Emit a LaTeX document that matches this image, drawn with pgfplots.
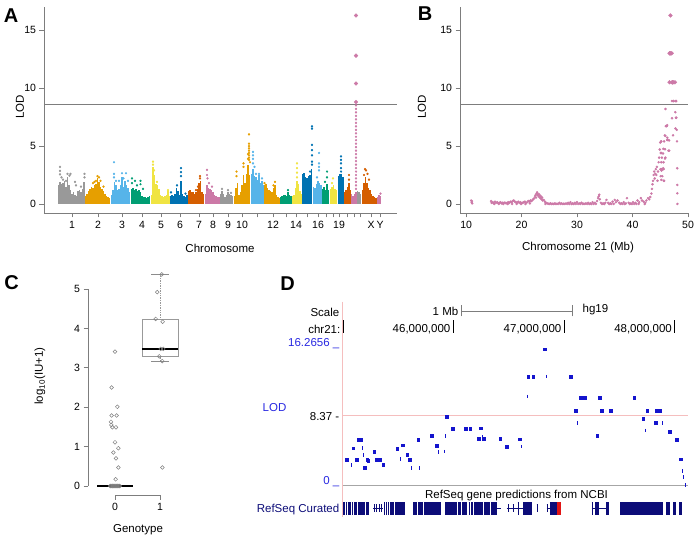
\documentclass[border=0pt]{standalone}
\usepackage{pgfplots}
\pgfplotsset{compat=1.18}
\usepackage{fontspec}
\setmainfont{Liberation Sans}
\definecolor{cgray}{HTML}{999999}
\definecolor{corange}{HTML}{E69F00}
\definecolor{csky}{HTML}{56B4E9}
\definecolor{cgreen}{HTML}{009E73}
\definecolor{cyellow}{HTML}{F0E442}
\definecolor{cblue}{HTML}{0072B2}
\definecolor{cverm}{HTML}{D55E00}
\definecolor{cpurple}{HTML}{CC79A7}
\definecolor{ptblue}{RGB}{20,20,205}
\definecolor{labblue}{RGB}{40,40,225}
\definecolor{gnavy}{RGB}{12,12,120}
\definecolor{gred}{RGB}{225,20,20}
\definecolor{dpink}{RGB}{245,190,190}
\definecolor{axgray}{RGB}{125,125,125}
\newcommand\dfont{\fontsize{11.5}{13}\selectfont}
\pgfplotsset{
  rstyle/.style={
    scale only axis,
    axis lines*=left,
    axis line style={-, draw=axgray, line width=0.6pt},
    tick align=outside,
    major tick length=4.5pt,
    tick style={axgray, line width=0.6pt},
    tick label style={font=\fontsize{10.5}{12}\selectfont},
    label style={font=\fontsize{11.5}{13}\selectfont},
    yticklabel style={/pgf/number format/assume math mode=true},
    xticklabel style={/pgf/number format/assume math mode=true},
  },
  comb/.style={ycomb, line width=1.6pt, color=#1},
  dots/.style={only marks, mark=*, mark size=0.95pt, color=#1},
}
\newcommand\gb[2]{\addplot[gnavy, line width=13pt] coordinates {(#1,-2.82) (#2,-2.82)};}
\newcommand\gs[2]{\addplot[gnavy, line width=8pt] coordinates {(#1,-2.82) (#2,-2.82)};}
\newcommand\gi[2]{\addplot[gnavy, line width=0.8pt] coordinates {(#1,-2.82) (#2,-2.82)};}
\begin{document}
\begin{tikzpicture}

% ---------------- Panel A ----------------
\begin{axis}[rstyle, at={(44pt,325pt)}, anchor=south west,
  width=353pt, height=206pt,
  xmin=44, xmax=397, ymin=-0.78, ymax=17,
  ytick={0,5,10,15},
  xtick={72,98,122,142,161,180,199,213,228,242,257,273,286,296,307,318,326,333,339,347,354,360,371,380},
  xticklabels={1,2,3,4,5,6,7,8,9,10,,12,,14,,16,,,19,,,,X,Y},
  xlabel={Chromosome}, ylabel={LOD},
  xlabel style={at={(axis description cs:0.4986,-0.17)}, anchor=center},
  ylabel style={at={(axis description cs:-0.068,0.515)}, anchor=center},
]
\addplot[axgray, line width=0.6pt] coordinates {(44,8.63) (397,8.63)};
\addplot[comb=cgray] coordinates {(58.5,1.6) (60,1.9) (61.5,1.7) (63,1.8) (64.5,2.0) (66,1.5) (67.5,2.3) (69,1.6) (70.5,1.2) (72,0.9) (73.5,1.0) (75,0.8) (76.5,0.7) (78,1.1) (79.5,1.2) (81,1.0) (82.5,1.3) (84,1.9)
(220.5,0.9) (222,1.1) (223.5,0.9) (225,0.6) (226.5,0.8) (228,1.0) (229.5,0.9) (231,0.8) (232.5,0.7)
(357.5,1.1) (359,1.0) (360.5,0.9)};
\addplot[dots=cgray] coordinates {(60,3.2) (60,2.85) (60,2.55) (61.5,2.3) (63,2.1) (66,2.0) (67.5,2.6) (69.5,2.45) (70.5,2.6) (75,1.9) (76,1.6) (81,1.5) (84.5,2.6) (84.5,2.3) (222,1.3) (228,1.2) (231,0.95)};
\addplot[comb=corange] coordinates {(85.5,0.7) (87,0.9) (88.5,1.1) (90,1.3) (91.5,1.5) (93,1.4) (94.5,1.6) (96,1.7) (97.5,2.2) (99,1.9) (100.5,1.5) (102,1.3) (103.5,1.1) (105,0.9) (106.5,0.7) (108,0.6) (109.5,0.5)
(234.5,0.7) (236,1.4) (237.5,1.8) (239,0.8) (240.5,1.0) (242,1.6) (243.5,2.5) (245,1.8) (246.5,2.6) (248,3.4) (249.5,2.5)
(264.5,1.6) (266,1.7) (267.5,1.4) (269,1.2) (270.5,1.1) (272,1.0) (273.5,1.4) (275,1.6) (276.5,0.8) (278,0.6) (279.5,0.5)};
\addplot[dots=corange] coordinates {(97.5,2.4) (99,2.3) (96,2.0) (93,1.8) (94.5,1.9) (100.5,2.0) (103.5,1.5) (236.5,2.8) (236.5,2.4) (243.5,3.5) (243.5,3.2) (249,6.0) (249,5.2) (249,5.0) (249,4.8) (249,4.6) (249,4.4) (249,4.2) (249,4.0) (249,3.8) (248,4.3) (248,3.9) (250,3.6) (264.5,1.8) (275,1.9) (273.5,1.6)};
\addplot[comb=csky] coordinates {(111.5,0.8) (113,1.2) (114.5,1.9) (116,1.6) (117.5,1.2) (119,1.3) (120.5,1.6) (122,2.3) (123.5,1.5) (125,2.0) (126.5,1.6) (128,1.4) (129.5,1.0)
(251.5,2.6) (253,3.0) (254.5,2.4) (256,2.3) (257.5,2.1) (259,2.5) (260.5,1.8) (262,2.0) (263.5,1.6)
(313.5,1.5) (315,1.4) (316.5,1.7) (318,2.0) (319.5,1.8) (321,1.6)};
\addplot[dots=csky] coordinates {(114,3.6) (114,2.6) (114,2.3) (116,2.0) (119,2.0) (122,2.65) (123.5,2.2) (126,2.65) (128,2.0) (253,4.5) (253,4.2) (253,3.9) (253,3.5) (254.5,3.2) (256,2.6) (259,2.6) (262,2.2) (319,4.4) (319,3.5) (319,3.2) (319,2.9) (317,2.3)};
\addplot[comb=cgreen] coordinates {(131.5,1.3) (133,1.4) (134.5,1.2) (136,1.3) (137.5,1.1) (139,1.2) (140.5,1.0) (142,0.7) (143.5,0.6) (145,0.6) (146.5,0.5) (148,0.6) (149.5,0.7)
(280.5,0.6) (282,0.7) (283.5,0.8) (285,0.8) (286.5,0.7) (288,1.0) (289.5,0.8) (291,0.7)
(322.5,1.3) (324,1.5) (325.5,1.2) (327,1.7) (328.5,1.2)};
\addplot[dots=cgreen] coordinates {(132,2.2) (132,1.8) (135,2.0) (137,1.6) (140.5,2.0) (140.5,1.7) (143,1.3) (288,1.2) (327,2.8) (327,2.3) (325,1.9)};
\addplot[comb=cyellow] coordinates {(151.5,0.8) (153,3.2) (154.5,2.5) (156,1.7) (157.5,1.6) (159,1.3) (160.5,0.8) (162,0.7) (163.5,0.6) (165,0.7) (166.5,0.8) (168,1.1) (169.5,0.7)
(292.5,0.7) (294,0.8) (295.5,1.4) (297,2.0) (298.5,1.7) (300,1.1) (301.5,0.9)
(330.5,1.3) (332,1.5) (333.5,1.6) (335,1.3) (336.5,1.2)};
\addplot[dots=cyellow] coordinates {(153,3.65) (153,3.4) (154,2.9) (157,1.9) (168,1.2) (297,3.5) (297,3.1) (297,2.7) (297,2.3) (333,2.2) (332,1.8)};
\addplot[comb=cblue] coordinates {(170.5,0.7) (172,0.8) (173.5,0.7) (175,0.9) (176.5,1.4) (178,1.1) (179.5,0.8) (181,2.0) (182.5,0.9) (184,0.7) (185.5,0.6) (187,0.8)
(302.5,2.6) (304,2.7) (305.5,2.3) (307,2.2) (308.5,2.4) (310,2.5) (311.5,3.0)
(338.5,2.4) (340,2.6) (341.5,2.6) (343,2.3)};
\addplot[dots=cblue] coordinates {(171,1.0) (177,1.6) (181,3.1) (181,2.75) (181,2.4) (185.5,0.9) (312,6.7) (312,6.5) (312,5.1) (312,4.65) (312,4.2) (312,3.65) (312,3.4) (310,2.8) (341,4.1) (341,3.8) (341,3.5) (341,3.1) (341,2.8)};
\addplot[comb=cverm] coordinates {(188.5,1.1) (190,1.2) (191.5,1.0) (193,1.0) (194.5,0.9) (196,1.0) (197.5,1.3) (199,1.8) (200.5,2.0) (202,1.0) (203.5,0.9)
(344.5,1.0) (346,1.2) (347.5,1.5) (349,1.8) (350.5,1.2)
(362.5,1.2) (364,1.8) (365.5,2.3) (367,1.8) (368.5,1.4) (370,1.2) (371.5,0.9) (373,0.7) (374.5,0.6) (376,0.5)};
\addplot[dots=cverm] coordinates {(200,2.4) (200,2.2) (198,1.5) (196,1.2) (349,2.5) (349,2.1) (364,2.5) (365,3.0) (366,2.9) (367.5,2.6) (369,2.1)};
\addplot[comb=cpurple] coordinates {(205.5,0.9) (207,1.6) (208.5,1.4) (210,1.3) (211.5,1.2) (213,1.0) (214.5,0.8) (216,0.7) (217.5,0.6) (219,0.6)
(351.5,0.9) (353,0.7) (354.5,0.9) (356,1.0)
(377.5,0.6) (379,0.8) (380.5,0.7)};
\addplot[dots=cpurple] coordinates {(207,2.95) (207,2.5) (207.5,2.2) (209,1.8) (212,1.5) (380.5,0.9)
(356,1.3) (356,1.6) (356,1.9) (356,2.2) (356,2.5) (356,2.8) (356,3.1) (356,3.4) (356,3.7) (356,4.0) (356,4.3) (356,4.6) (356,4.9) (356,5.2) (356,5.5) (356,5.8) (356,6.1) (356,6.4) (356,6.7) (356,7.0) (356,7.3) (356,7.6) (356,7.9) (356,8.2) (356,8.5)};
\addplot[only marks, mark=*, mark size=1.9pt, color=cpurple] coordinates {(356,8.8) (356,10.4) (356,12.8) (356,16.27)};
\end{axis}

% ---------------- Panel B ----------------
\begin{axis}[rstyle, at={(460pt,325pt)}, anchor=south west,
  width=228pt, height=206pt,
  xmin=8.9, xmax=50, ymin=-0.78, ymax=17,
  xtick={10,20,30,40,50}, ytick={0,5,10,15},
  xlabel={Chromosome 21 (Mb)}, ylabel={LOD},
  xlabel style={at={(axis description cs:0.5175,-0.17)}, anchor=center},
  ylabel style={at={(axis description cs:-0.1667,0.515)}, anchor=center},
]
\addplot[axgray, line width=0.6pt] coordinates {(8.9,8.63) (50,8.63)};
\addplot[only marks, mark=*, mark size=1.05pt, color=cpurple] table {
x y
10.9 0.30
11.0 0.15
11.05 0.25
11.1 0.05
14.5 0.25
14.6 0.10
14.8 0.15
15.0 0.05
15.1 0.00
15.2 0.20
15.4 0.10
15.6 0.15
15.8 0.05
15.9 0.00
16.0 0.10
16.2 0.15
16.4 0.05
16.6 0.10
16.7 0.00
16.8 0.08
17.0 0.12
17.2 0.05
17.4 0.10
17.5 0.00
17.6 0.15
17.8 0.10
18.0 0.20
18.2 0.15
18.3 0.00
18.4 0.25
18.6 0.30
18.8 0.20
19.0 0.15
19.1 0.00
19.2 0.10
19.4 0.20
19.6 0.10
19.8 0.15
19.9 0.00
20.0 0.05
20.2 0.10
20.4 0.15
20.6 0.20
20.7 0.00
20.8 0.10
21.0 0.15
21.2 0.25
21.4 0.20
21.5 0.05
21.6 0.30
21.8 0.25
22.0 0.35
22.2 0.45
22.4 0.60
22.5 0.75
22.6 0.55
22.7 0.90
22.8 1.00
22.9 0.80
23.0 0.70
23.1 0.85
23.2 0.60
23.3 0.75
23.4 0.50
23.5 0.65
23.6 0.40
23.7 0.55
23.8 0.30
24.0 0.35
24.2 0.20
24.3 0.00
24.4 0.10
24.6 0.05
24.8 0.02
25.0 0.00
25.2 0.05
25.4 0.00
25.6 0.02
25.8 0.00
26.0 0.05
26.2 0.00
26.4 0.02
26.6 0.00
26.8 0.10
27.0 0.00
27.2 0.05
27.4 0.00
27.6 0.02
27.8 0.00
28.0 0.05
28.2 0.00
28.4 0.10
28.6 0.00
28.8 0.15
29.0 0.00
29.2 0.05
29.4 0.00
29.6 0.10
29.8 0.00
30.0 0.15
30.2 0.00
30.4 0.05
30.6 0.00
30.8 0.10
31.0 0.00
31.2 0.02
31.4 0.00
31.6 0.05
31.8 0.00
32.0 0.10
32.2 0.00
32.4 0.05
32.6 0.00
32.8 0.15
33.0 0.00
33.2 0.10
33.4 0.00
33.6 0.25
33.8 0.50
33.9 0.65
34.0 0.80
34.1 0.40
34.3 0.10
34.5 0.00
34.7 0.05
34.9 0.00
35.1 0.10
35.3 0.35
35.6 0.10
35.8 0.00
36.0 0.05
36.2 0.00
36.4 0.20
36.6 0.00
36.8 0.35
37.0 0.15
37.3 0.30
37.6 0.10
37.8 0.00
38.0 0.05
38.2 0.00
38.4 0.15
38.6 0.00
38.8 0.05
39.0 0.50
39.3 0.10
39.5 0.00
39.7 0.05
39.9 0.00
40.1 0.15
40.3 0.00
40.5 0.10
40.7 0.00
40.9 0.30
41.1 0.00
41.2 0.15
41.5 0.50
41.7 0.30
42.0 0.20
42.2 0.00
42.3 0.10
42.5 0.30
42.8 0.50
43.0 0.40
43.2 0.60
43.4 0.90
43.5 1.30
43.6 1.70
43.7 2.00
43.8 2.50
43.9 2.80
44.0 2.20
44.1 2.60
44.2 3.00
44.3 2.50
44.4 3.20
44.5 2.00
44.6 2.80
44.7 3.60
44.8 4.00
44.9 4.70
45.0 5.30
45.036 3.00
45.081 2.40
45.096 4.40
45.127 3.00
45.145 5.40
45.169 5.40
45.181 4.40
45.187 3.60
45.202 2.08
45.223 3.00
45.232 2.88
45.286 4.00
45.307 3.00
45.337 3.00
45.367 2.40
45.494 4.36
45.527 3.08
45.542 4.76
45.584 3.60
45.608 3.00
45.623 2.00
45.684 5.40
45.699 2.00
45.804 5.92
45.849 4.72
45.864 3.92
45.916 4.00
45.925 5.88
45.940 8.20
45.994 6.72
46.111 6.72
46.151 6.72
46.229 5.52
46.247 6.80
46.265 5.72
46.277 5.52
46.422 5.52
46.482 4.60
46.602 5.48
46.617 4.60
47.105 8.88
47.120 7.40
47.301 5.92
47.340 8.88
47.422 8.88
47.717 7.92
47.732 6.52
47.753 8.88
47.828 7.44
47.837 8.88
47.867 8.88
47.889 7.44
47.952 6.40
48.018 5.40
48.054 3.08
48.072 1.64
48.081 0.92
48.093 0.00
};
\addplot[only marks, mark=*, mark size=1.9pt, color=cpurple] table {
x y
46.669 10.5
46.678 13.0
46.723 13.0
46.828 16.27
46.843 13.0
47.060 13.0
47.145 10.5
47.169 10.5
47.187 10.5
47.325 10.5
47.633 10.5
};
\end{axis}

% ---------------- Panel C ----------------
\begin{axis}[rstyle, axis line style={draw=none}, at={(88pt,42.94pt)}, anchor=south west,
  width=99pt, height=229.7pt, clip=false,
  xmin=-0.6, xmax=1.6, ymin=-0.23, ymax=5.6,
  xtick={0,1}, ytick={0,1,2,3,4,5},
  xlabel={Genotype}, ylabel={log\textsubscript{10}(IU+1)},
  xlabel style={at={(axis description cs:0.505,-0.152)}, anchor=center},
  ylabel style={at={(axis description cs:-0.485,0.518)}, anchor=center},
]
\draw[axgray, line width=0.6pt] (axis cs:-0.6,0) -- (axis cs:-0.6,5);
\draw[axgray, line width=0.6pt] (axis cs:0,-0.23) -- (axis cs:1,-0.23);
\addplot[black!40, line width=0.7pt, densely dotted] coordinates {(1,4.23) (1,5.37)};
\addplot[black!40, line width=0.7pt, densely dotted] coordinates {(1,3.28) (1,3.17)};
\addplot[black!45, line width=0.7pt] coordinates {(0.8,5.37) (1.2,5.37)};
\addplot[black!45, line width=0.7pt] coordinates {(0.8,3.17) (1.2,3.17)};
\addplot[black!40, line width=0.7pt] coordinates {(0.6,3.28) (1.4,3.28) (1.4,4.23) (0.6,4.23) (0.6,3.28)};
\addplot[black, line width=1.8pt] coordinates {(0.6,3.48) (1.4,3.48)};
\addplot[black, line width=1.8pt] coordinates {(-0.4,0) (0.4,0)};
\addplot[only marks, mark=o, mark size=1.9pt, color=black!50, line width=0.5pt] coordinates {
(0,3.41) (-0.074,2.50) (0.052,2.01) (-0.074,1.79) (0.037,1.79) (-0.089,1.63) (-0.081,1.55) (-0.059,1.49) (0.022,1.49) (0,1.11) (0.074,0.96) (-0.037,0.85) (0.022,0.70) (0.074,0.47) (0.015,0.17)
(-0.11,0) (-0.09,0) (-0.07,0) (-0.05,0) (-0.03,0) (-0.01,0) (0.01,0) (0.03,0) (0.05,0) (0.07,0) (0.09,0) (0.11,0)
(1.037,5.37) (0.94,4.92) (0.904,4.24) (1.059,4.17) (1.015,3.48) (1.074,3.48) (0.985,3.29) (1.052,3.17) (1.052,0.47)};
\end{axis}

% ---------------- Panel D ----------------
\begin{axis}[scale only axis, hide axis, at={(342.6pt,19.7pt)}, anchor=south west,
  width=346.5pt, height=216.7pt, clip=false,
  xmin=45.0, xmax=48.13, ymin=-4, ymax=22]
\addplot[dpink, line width=0.7pt] coordinates {(45.0,8.37) (48.12,8.37)};
\addplot[black!35, line width=0.7pt] coordinates {(45.0,0) (48.12,0)};
\addplot[only marks, mark=square*, mark size=1.3pt, color=ptblue] table {
x y
45.036 3.00
45.096 4.40
45.127 3.00
45.145 5.40
45.169 5.40
45.202 2.08
45.223 3.00
45.232 2.88
45.286 4.00
45.307 3.00
45.337 3.00
45.367 2.40
45.494 4.36
45.542 4.76
45.584 3.60
45.608 3.00
45.684 5.40
45.804 5.92
45.849 4.72
45.940 8.20
45.994 6.72
46.111 6.72
46.151 6.72
46.229 5.52
46.247 6.80
46.277 5.52
46.422 5.52
46.482 4.60
46.602 5.48
46.678 13.00
46.723 13.00
46.828 16.27
47.060 13.00
47.105 8.88
47.145 10.50
47.160 10.50
47.175 10.50
47.187 10.50
47.301 5.92
47.325 10.50
47.340 8.88
47.422 8.88
47.633 10.50
47.717 7.92
47.753 8.88
47.828 7.44
47.837 8.88
47.867 8.88
47.952 6.40
48.018 5.40
48.054 3.08
};
\addplot[only marks, mark=|, mark size=1.8pt, line width=1pt, color=ptblue] table {
x y
45.081 2.40
45.181 4.40
45.187 3.60
45.527 3.08
45.623 2.00
45.699 2.00
45.864 3.92
45.916 4.00
45.925 5.88
46.265 5.72
46.617 4.60
46.669 10.60
46.843 13.00
47.120 7.40
47.732 6.52
47.889 7.44
48.072 1.64
48.081 0.92
48.093 0.00
};
\gb{45.006}{45.018}\gb{45.027}{45.039}\gb{45.045}{45.072}\gb{45.081}{45.093}\gb{45.102}{45.127}\gb{45.136}{45.199}\gb{45.208}{45.238}
\gi{45.277}{45.367}\gs{45.283}{45.289}\gs{45.301}{45.306}\gs{45.325}{45.330}\gs{45.343}{45.348}
\gb{45.377}{45.386}\gb{45.395}{45.404}\gb{45.413}{45.422}\gb{45.431}{45.464}\gb{45.473}{45.563}
\gb{45.639}{45.675}\gb{45.684}{45.723}\gb{45.735}{45.886}
\gb{45.925}{46.030}\gb{46.045}{46.066}\gb{46.078}{46.120}
\gb{46.139}{46.151}\gb{46.163}{46.175}
\gb{46.190}{46.265}\gb{46.277}{46.331}\gb{46.340}{46.398}\gi{46.398}{46.428}
\gi{46.482}{46.633}\gs{46.497}{46.503}\gs{46.536}{46.542}\gb{46.581}{46.590}\gb{46.633}{46.711}
\gs{46.753}{46.768}
\gi{46.843}{46.873}\gs{46.843}{46.849}\gb{46.873}{46.934}
\addplot[gred, line width=13pt] coordinates {(46.934,-2.82) (46.970,-2.82)};
\gi{47.250}{47.386}\gb{47.250}{47.262}\gb{47.280}{47.319}\gb{47.380}{47.410}
\gb{47.506}{47.898}\gb{47.922}{47.958}\gb{47.988}{48.012}\gb{48.042}{48.066}
\end{axis}

% D decorations and texts
\draw[dpink, line width=0.8pt] (342.6pt,236.4pt) -- (342.6pt,21pt);
\node[anchor=base east, inner sep=0, font=\dfont] at (339.5pt,221.2pt) {Scale};
\node[anchor=base east, inner sep=0, font=\dfont] at (340.5pt,204.6pt) {chr21:};
\node[anchor=base east, inner sep=0, font=\dfont] at (458.5pt,222.2pt) {1 Mb};
\node[anchor=base west, inner sep=0, font=\dfont] at (582.5pt,225.9pt) {hg19};
\draw[axgray, line width=0.6pt] (461pt,227pt) -- (572pt,227pt);
\draw[axgray, line width=0.6pt] (461pt,221.5pt) -- (461pt,232.5pt);
\draw[axgray, line width=0.6pt] (572pt,221.5pt) -- (572pt,232.5pt);
\node[anchor=base east, inner sep=0, font=\dfont] at (450.5pt,205.6pt) {46,000,000};
\node[anchor=base east, inner sep=0, font=\dfont] at (561.5pt,205.6pt) {47,000,000};
\node[anchor=base east, inner sep=0, font=\dfont] at (672pt,205.6pt) {48,000,000};
\draw[black, line width=0.9pt] (343.2pt,205pt) -- (343.2pt,218pt);
\draw[black, line width=0.9pt] (453.3pt,205pt) -- (453.3pt,218pt);
\draw[black, line width=0.9pt] (564pt,205pt) -- (564pt,218pt);
\draw[black, line width=0.9pt] (674.5pt,205pt) -- (674.5pt,218pt);
\node[anchor=base east, inner sep=0, font=\dfont, text=labblue] at (339.5pt,191.2pt) {16.2656 \_};
\node[anchor=center, inner sep=0, font=\dfont, text=labblue] at (274.5pt,130pt) {LOD};
\node[anchor=base east, inner sep=0, font=\dfont] at (339.5pt,117.2pt) {8.37 -};
\node[anchor=base east, inner sep=0, font=\dfont, text=labblue] at (339.5pt,53.9pt) {0 \_};
\node[anchor=base east, inner sep=0, font=\dfont, text=gnavy] at (339.5pt,25.5pt) {RefSeq Curated};
\node[anchor=base, inner sep=0, font=\dfont] at (516.5pt,39.5pt) {RefSeq gene predictions from NCBI};

\node[font=\fontsize{20}{22}\bfseries\selectfont, inner sep=0] at (11pt,522.5pt) {A};
\node[font=\fontsize{20}{22}\bfseries\selectfont, inner sep=0] at (425pt,524pt) {B};
\node[font=\fontsize{20}{22}\bfseries\selectfont, inner sep=0] at (11.5pt,255pt) {C};
\node[font=\fontsize{20}{22}\bfseries\selectfont, inner sep=0] at (287.5pt,254.5pt) {D};

\pgfresetboundingbox
\path[use as bounding box] (0pt,0pt) rectangle (696pt,538pt);
\end{tikzpicture}
\end{document}
